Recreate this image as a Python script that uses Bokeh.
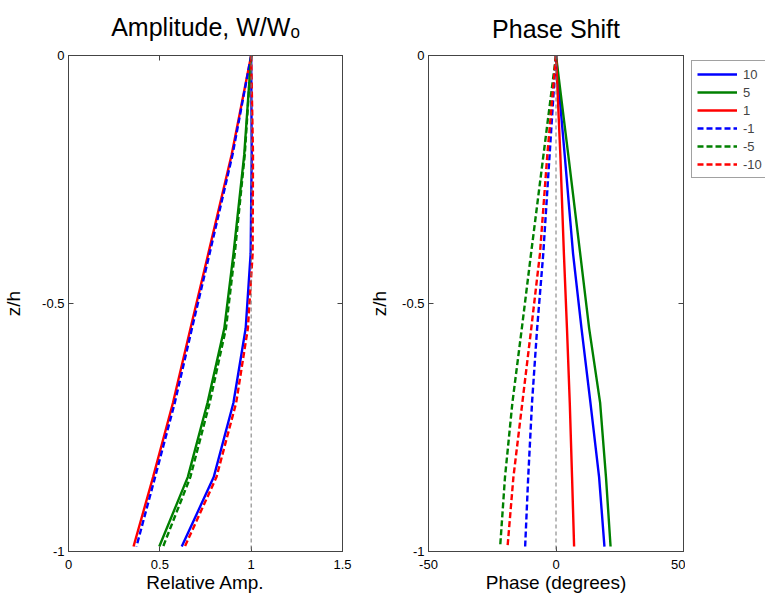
from bokeh.plotting import figure
from bokeh.models import Range1d, FixedTicker, LinearAxis, Span, Legend, LegendItem
from bokeh.layouts import row
from bokeh.embed import file_html
from bokeh.resources import INLINE

# ---- data ----
z_levels = [0.0, -0.2, -0.4, -0.55, -0.7, -0.85, -0.99]
series_labels = ["10", "5", "1", "-1", "-5", "-10"]

amp_p10 = [1.0, 1.003, 0.997, 0.970, 0.903, 0.795, 0.620]
amp_p5 = [1.0, 0.962, 0.903, 0.853, 0.761, 0.653, 0.497]
amp_p1 = [1.0, 0.893, 0.765, 0.668, 0.572, 0.463, 0.356]
amp_m1 = [1.0, 0.898, 0.772, 0.676, 0.582, 0.474, 0.372]
amp_m5 = [1.0, 0.965, 0.910, 0.862, 0.773, 0.667, 0.518]
amp_m10 = [1.0, 1.010, 1.008, 0.982, 0.918, 0.810, 0.637]

ph_p10 = [0.0, 3.4, 6.7, 10.0, 13.5, 16.9, 19.0]
ph_p5 = [0.0, 4.8, 9.5, 13.0, 17.3, 19.6, 21.4]
ph_p1 = [0.0, 1.7, 3.1, 4.3, 5.4, 6.3, 7.1]
ph_m1 = [0.0, -2.5, -5.0, -7.4, -9.4, -10.9, -12.1]
ph_m5 = [0.0, -4.9, -9.8, -13.4, -17.1, -20.0, -21.9]
ph_m10 = [0.0, -3.4, -6.3, -9.7, -13.2, -16.7, -19.0]

amp_ticks = [0, 0.5, 1, 1.5]
amp_tick_labels = ["0", "0.5", "1", "1.5"]
ph_ticks = [-50, 0, 50]
ph_tick_labels = ["-50", "0", "50"]
z_ticks = [-1, -0.5, 0]
z_tick_labels = ["-1", "-0.5", "0"]

FONT = "Liberation Sans"
AX = "#444444"
BLUE, GREEN, RED = "#0000ff", "#008000", "#ff0000"
styles = [(BLUE, "solid"), (GREEN, "solid"), (RED, "solid"),
          (BLUE, "6 3"), (GREEN, "6 3"), (RED, "6 3")]
LW = 2.4
phase_series = [ph_p10, ph_p5, ph_p1, ph_m1, ph_m5, ph_m10]


def make_fig(width, border_left, border_right, xr, xticks, xlabels, xlabel, title,
             ylabel_standoff, title_standoff):
    p = figure(width=width, height=599, output_backend="svg", toolbar_location=None,
               x_range=Range1d(*xr), y_range=Range1d(-1, 0),
               min_border_left=border_left, min_border_right=border_right,
               min_border_top=55, min_border_bottom=48, title=title)
    p.grid.visible = False
    p.outline_line_color = AX
    p.background_fill_color = "white"
    p.border_fill_color = "white"
    p.title.text_font = FONT
    p.title.text_font_size = "25px"
    p.title.text_font_style = "normal"
    p.title.text_color = "black"
    p.title.align = "center"
    p.title.vertical_align = "top"
    p.title.standoff = title_standoff

    for ax, ticks, labels in ((p.xaxis[0], xticks, xlabels), (p.yaxis[0], z_ticks, z_tick_labels)):
        ax.ticker = FixedTicker(ticks=ticks)
        ax.major_label_overrides = {t: l for t, l in zip(ticks, labels)}
        ax.major_tick_in = 5
        ax.major_tick_out = 0
        ax.minor_tick_line_color = None
        ax.axis_line_color = AX
        ax.major_tick_line_color = AX
        ax.major_label_text_font = FONT
        ax.major_label_text_font_size = "13px"
        ax.major_label_text_color = "black"
        ax.axis_label_text_font = FONT
        ax.axis_label_text_font_size = "19px"
        ax.axis_label_text_font_style = "normal"
        ax.axis_label_text_color = "black"
    p.xaxis.axis_label = xlabel
    p.xaxis.major_label_standoff = 8
    p.xaxis.axis_label_standoff = 0
    p.yaxis.axis_label = "z/h"
    p.yaxis.major_label_standoff = 4
    p.yaxis.axis_label_standoff = ylabel_standoff

    # mirrored ticks on top and right (box)
    for loc, ticks in (("above", xticks), ("right", z_ticks)):
        a = LinearAxis(ticker=FixedTicker(ticks=ticks),
                       major_label_overrides={t: "" for t in ticks},
                       major_label_text_font_size="1px", major_label_standoff=0,
                       major_tick_in=5, major_tick_out=0,
                       minor_tick_line_color=None, axis_line_color=AX,
                       major_tick_line_color=AX)
        p.add_layout(a, loc)
    return p


# ---- left: amplitude ----
p1 = make_fig(361, 67, 19, (0, 1.5), amp_ticks, amp_tick_labels,
              "Relative Amp.", "Amplitude, W/W\u2092", 15, 25)
p1.add_layout(Span(location=1, dimension="height", line_color="#777777",
                   line_dash="4 3", line_width=1))
for xs, (c, d) in zip([amp_p10, amp_p5, amp_p1, amp_m1, amp_m5, amp_m10], styles):
    p1.line(xs, z_levels, line_color=c, line_dash=d, line_width=LW)

# ---- right: phase ----
p2 = make_fig(324, 67, 2, (-50, 50), ph_ticks, ph_tick_labels,
              "Phase (degrees)", "Phase Shift", 9, 21)
p2.add_layout(Span(location=0, dimension="height", line_color="#777777",
                   line_dash="4 3", line_width=1))
for xs, (c, d) in zip(phase_series, styles):
    p2.line(xs, z_levels, line_color=c, line_dash=d, line_width=LW)

# ---- legend strip (its own small plot; the series there fall outside its range) ----
p3 = figure(width=80, height=599, output_backend="svg", toolbar_location=None,
            x_range=Range1d(100, 101), y_range=Range1d(-1, 0),
            x_axis_location=None, y_axis_location=None, min_border=0)
p3.grid.visible = False
p3.outline_line_color = None
p3.background_fill_color = "white"
p3.border_fill_color = "white"
items = []
for xs, (c, d), lab in zip(phase_series, styles, series_labels):
    r = p3.line(xs, z_levels, line_color=c, line_dash=d, line_width=LW)
    items.append(LegendItem(label=lab, renderers=[r]))
legend = Legend(items=items, location=(6, 373), margin=0, padding=5,
                spacing=2, glyph_width=40, glyph_height=16, label_height=16,
                label_width=18, label_standoff=6, label_text_font=FONT,
                label_text_font_size="13px", border_line_color=AX,
                background_fill_color="white", background_fill_alpha=1.0)
p3.add_layout(legend)

layout = row(p1, p2, p3)
open("out.html", "w").write(file_html(layout, INLINE))
